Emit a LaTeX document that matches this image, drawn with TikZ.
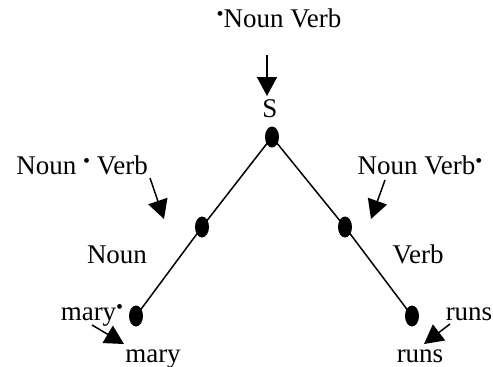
\documentclass[tikz,border=0pt]{standalone}
\usepackage{fontspec}
\setmainfont{Liberation Serif}
\usetikzlibrary{arrows.meta,shapes.geometric}
\newcommand{\hdot}{\raisebox{7pt}{\fontsize{20}{20}\selectfont •}}
\begin{document}
\begin{tikzpicture}[x=1pt,y=-1pt,
  lbl/.style={inner sep=0pt,anchor=base,font=\fontsize{27}{29}\selectfont},
  dotnode/.style={ellipse,fill=black,minimum width=14pt,minimum height=21pt,inner sep=0pt},
  branch/.style={line width=1.5pt},
  ptr/.style={line width=1.5pt,-{Triangle[length=19pt,width=20pt]}}]
\useasboundingbox (0,0) rectangle (493,367);
% dots
\node[dotnode] (d0) at (272,137) {};
\node[dotnode] (d1) at (202,227) {};
\node[dotnode] (d2) at (136,316) {};
\node[dotnode] (d3) at (345,227) {};
\node[dotnode] (d4) at (412,316) {};
\draw[branch] (d0.center) -- (d1.center) -- (d2.center);
\draw[branch] (d0.center) -- (d3.center) -- (d4.center);
% labels
\node[lbl] (top) at (279,27) {\hdot Noun Verb};
\node[lbl] (s) at (270,117) {S};
\node[lbl] (nv1) at (82,174) {Noun \hdot\ Verb};
\node[lbl] (nv2) at (420,174) {Noun Verb\hdot};
\node[lbl] (noun) at (117,263) {Noun};
\node[lbl] (verb) at (418,263) {Verb};
\node[lbl] (mary1) at (92,320) {mary\hdot};
\node[lbl] (mary2) at (153,362) {mary};
\node[lbl] (runs1) at (469,320) {runs};
\node[lbl] (runs2) at (420,362) {runs};
% arrows
\coordinate (a1s) at (267,55); \coordinate (a1e) at (267,96);
\coordinate (a2s) at (150,178); \coordinate (a2e) at (164,219);
\coordinate (a3s) at (385,180); \coordinate (a3e) at (371,219);
\coordinate (a4s) at (92,325); \coordinate (a4e) at (124,344);
\coordinate (a5s) at (450,324); \coordinate (a5e) at (424,344);
\draw[ptr] (a1s) -- (a1e);
\draw[ptr] (a2s) -- (a2e);
\draw[ptr] (a3s) -- (a3e);
\draw[ptr] (a4s) -- (a4e);
\draw[ptr] (a5s) -- (a5e);
\end{tikzpicture}
\end{document}
